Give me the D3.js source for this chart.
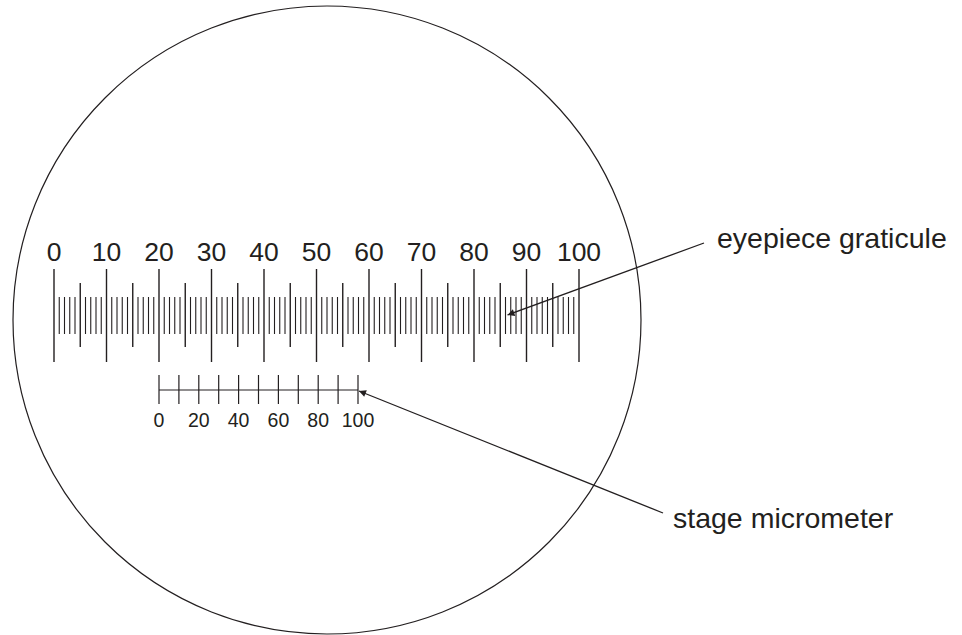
<!DOCTYPE html>
<html>
<head>
<meta charset="utf-8">
<script src="https://cdn.jsdelivr.net/npm/d3@7"></script>
<style>
  body { margin: 0; background: #fff; }
  text { font-family: "Liberation Sans", Arial, sans-serif; fill: #231f20; }
</style>
</head>
<body>
<div class="view"></div>
<script>
var width = 962, height = 635;
var ink = "#231f20";

// eyepiece graticule: 100 divisions, numbered every 10
var graticuleDivisions = 100;
var graticuleLabels = [0, 10, 20, 30, 40, 50, 60, 70, 80, 90, 100];

// stage micrometer: ticks every 10, numbered every 20
var stageTicks = [0, 10, 20, 30, 40, 50, 60, 70, 80, 90, 100];
var stageLabels = [0, 20, 40, 60, 80, 100];

var callouts = [
    {text: "eyepiece graticule", scale: "grat", at: 86, from: [704, 243], tx: 717, ty: 248},
    {text: "stage micrometer", scale: "stage", at: 100, from: [663, 513], tx: 673, ty: 528}
];

var svg = d3.select(".view").append("svg")
    .attr("width", width)
    .attr("height", height);

svg.append("defs").append("marker")
    .attr("id", "arrow")
    .attr("viewBox", "0 0 10 10")
    .attr("refX", 10)
    .attr("refY", 5)
    .attr("markerUnits", "userSpaceOnUse")
    .attr("markerWidth", 13)
    .attr("markerHeight", 7)
    .attr("orient", "auto")
    .append("path")
    .attr("d", "M0,0 L10,5 L0,10 Z")
    .attr("fill", ink);

// field of view
svg.append("circle")
    .attr("cx", 327)
    .attr("cy", 320)
    .attr("r", 314)
    .attr("fill", "none")
    .attr("stroke", ink)
    .attr("stroke-width", 1.2);

var gratX = d3.scaleLinear().domain([0, 100]).range([54, 579]);
var stageX = d3.scaleLinear().domain([0, 100]).range([159, 358]);

// graticule ticks
svg.append("g").selectAll("line")
    .data(d3.range(graticuleDivisions + 1))
    .join("line")
    .attr("x1", function(d){ return gratX(d); })
    .attr("x2", function(d){ return gratX(d); })
    .attr("y1", function(d){ return d % 10 == 0 ? 269 : d % 5 == 0 ? 283 : 297; })
    .attr("y2", function(d){ return d % 10 == 0 ? 362 : d % 5 == 0 ? 347 : 334; })
    .attr("stroke", ink)
    .attr("stroke-width", function(d){ return d % 5 == 0 ? 1.4 : 1.1; });

svg.append("g").selectAll("text")
    .data(graticuleLabels)
    .join("text")
    .attr("x", function(d){ return gratX(d); })
    .attr("y", 261)
    .attr("text-anchor", "middle")
    .style("font-size", "26.5px")
    .text(function(d){ return d; });

// stage micrometer
svg.append("line")
    .attr("x1", stageX(0))
    .attr("x2", stageX(100))
    .attr("y1", 390)
    .attr("y2", 390)
    .attr("stroke", ink)
    .attr("stroke-width", 1.2);

svg.append("g").selectAll("line")
    .data(stageTicks)
    .join("line")
    .attr("x1", function(d){ return stageX(d); })
    .attr("x2", function(d){ return stageX(d); })
    .attr("y1", 375)
    .attr("y2", 404)
    .attr("stroke", ink)
    .attr("stroke-width", 1.2);

svg.append("g").selectAll("text")
    .data(stageLabels)
    .join("text")
    .attr("x", function(d){ return stageX(d); })
    .attr("y", 427)
    .attr("text-anchor", "middle")
    .style("font-size", "19.5px")
    .text(function(d){ return d; });

// callout labels and arrows
svg.append("g").selectAll("line")
    .data(callouts)
    .join("line")
    .attr("x1", function(d){ return d.from[0]; })
    .attr("y1", function(d){ return d.from[1]; })
    .attr("x2", function(d){ return d.scale == "grat" ? gratX(d.at) + 2 : stageX(d.at) + 1; })
    .attr("y2", function(d){ return d.scale == "grat" ? 315 : 391; })
    .attr("stroke", ink)
    .attr("stroke-width", 1.3)
    .attr("marker-end", "url(#arrow)");

svg.append("g").selectAll("text")
    .data(callouts)
    .join("text")
    .attr("x", function(d){ return d.tx; })
    .attr("y", function(d){ return d.ty; })
    .style("font-size", "28.5px")
    .text(function(d){ return d.text; });
</script>
</body>
</html>
